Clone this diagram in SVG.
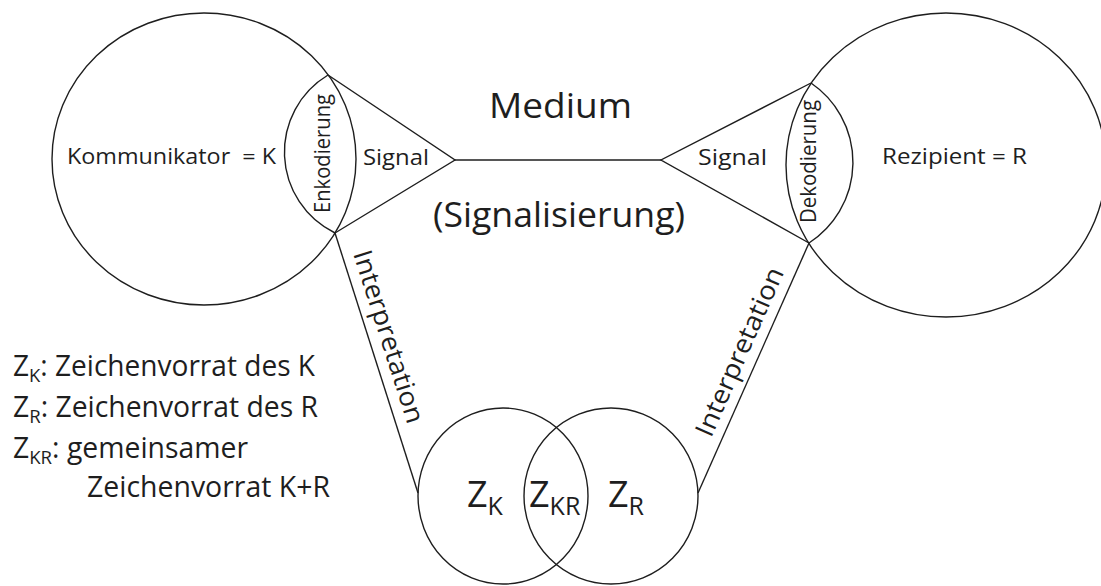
<svg xmlns="http://www.w3.org/2000/svg" width="1101" height="586" viewBox="0 0 1101 586">
<style>
.ln{fill:none;stroke:#1e1e1e;stroke-width:1.4}
.t{font-family:"Open Sans","Noto Sans","Liberation Sans",sans-serif;fill:#1e1e1e}
.s{font-size:21px}
.m{font-size:35px}
.i{font-size:26px}
.lg{font-size:29px}
.z{font-size:36px}
</style>
<rect width="1101" height="586" fill="#ffffff"/>
<g id="kommunikator">
<ellipse class="ln" cx="204" cy="159" rx="152" ry="146"/>
<text class="t s" x="67" y="164" xml:space="preserve" textLength="209" lengthAdjust="spacingAndGlyphs">Kommunikator  = K</text>
</g>
<g id="enkodierung">
<path class="ln" d="M328,75 A90,90 0 0 0 335,233"/>
<text class="t s" transform="translate(330,213) rotate(-90)" textLength="119" lengthAdjust="spacingAndGlyphs">Enkodierung</text>
</g>
<g id="signal-k">
<path class="ln" d="M328,75 L455,160 L335,233"/>
<text class="t s" x="363" y="165" textLength="66" lengthAdjust="spacingAndGlyphs">Signal</text>
</g>
<g id="medium">
<text class="t m" x="489" y="118" textLength="143" lengthAdjust="spacingAndGlyphs">Medium</text>
<text class="t m" x="433" y="227" textLength="252" lengthAdjust="spacingAndGlyphs">(Signalisierung)</text>
</g>
<g id="signal-r">
<path class="ln" d="M811,83 L661,160 L809,243"/>
<text class="t s" x="698" y="165" textLength="69" lengthAdjust="spacingAndGlyphs">Signal</text>
</g>
<g id="dekodierung">
<path class="ln" d="M811,83 A96,96 0 0 1 809,243"/>
<text class="t s" transform="translate(816,223) rotate(-90)" textLength="123" lengthAdjust="spacingAndGlyphs">Dekodierung</text>
</g>
<g id="rezipient">
<ellipse class="ln" cx="946" cy="165" rx="160" ry="152"/>
<text class="t s" x="882" y="164" textLength="145" lengthAdjust="spacingAndGlyphs">Rezipient = R</text>
</g>
<g id="zeichenvorrat-k">
<ellipse class="ln" cx="503" cy="496" rx="85" ry="88"/>
<text class="t z" x="467" y="507">Z<tspan font-size="25" dy="8">K</tspan></text>
</g>
<g id="zeichenvorrat-kr">
<text class="t z" x="529" y="507">Z<tspan font-size="25" dy="8">KR</tspan></text>
</g>
<g id="zeichenvorrat-r">
<ellipse class="ln" cx="611" cy="496" rx="87" ry="88"/>
<text class="t z" x="608" y="507">Z<tspan font-size="25" dy="8">R</tspan></text>
</g>
<g id="connectors">
<path class="ln" d="M455,160 H661"/>
<path class="ln" d="M335,233 L418,493"/>
<path class="ln" d="M809,243 L698,493"/>
<text class="t i" transform="translate(353,253.5) rotate(72.3)" textLength="180" lengthAdjust="spacingAndGlyphs">Interpretation</text>
<text class="t i" transform="translate(711,438.6) rotate(-66.25)" textLength="182" lengthAdjust="spacingAndGlyphs">Interpretation</text>
</g>
<g id="legend">
<text class="t lg" x="13" y="376" textLength="302" lengthAdjust="spacingAndGlyphs">Z<tspan font-size="19" dy="6">K</tspan><tspan dy="-6">: Zeichenvorrat des K</tspan></text>
<text class="t lg" x="13" y="417" textLength="305" lengthAdjust="spacingAndGlyphs">Z<tspan font-size="19" dy="6">R</tspan><tspan dy="-6">: Zeichenvorrat des R</tspan></text>
<text class="t lg" x="13" y="458" textLength="235" lengthAdjust="spacingAndGlyphs">Z<tspan font-size="19" dy="6">KR</tspan><tspan dy="-6">: gemeinsamer</tspan></text>
<text class="t lg" x="87" y="497" textLength="243" lengthAdjust="spacingAndGlyphs">Zeichenvorrat K+R</text>
</g>
</svg>
